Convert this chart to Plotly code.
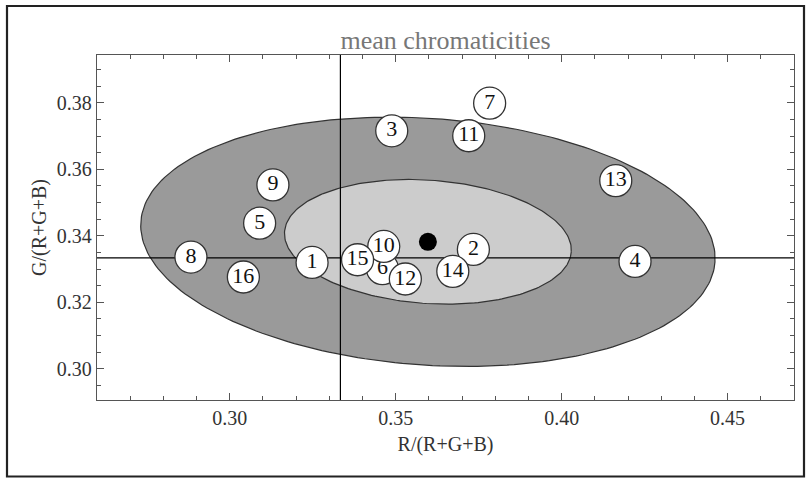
import numpy as np
import plotly.graph_objects as go

# ---- data ----
labels = [str(i) for i in range(1, 17)]
r_vals = [0.3248, 0.3734, 0.3488, 0.4221, 0.3090, 0.3460, 0.3783, 0.2883,
          0.3130, 0.3464, 0.3720, 0.3529, 0.4163, 0.3672, 0.3385, 0.3041]
g_vals = [0.3320, 0.3359, 0.3716, 0.3323, 0.3438, 0.3301, 0.3799, 0.3336,
          0.3553, 0.3368, 0.3701, 0.3270, 0.3566, 0.3293, 0.3328, 0.3276]
mean_r = 0.3597
mean_g = 0.3382
# ellipse parameters: (semi-major, semi-minor, rotation deg)
ell_outer = (0.0867, 0.0371, -4.0)
ell_inner = (0.0433, 0.01855, -4.0)
white_point = 1 / 3
x_ticks = [0.30, 0.35, 0.40, 0.45]
y_ticks = [0.30, 0.32, 0.34, 0.36, 0.38]
x_range = [0.26, 0.47]
y_range = [0.2906, 0.3944]

FONT = "Liberation Serif, Times New Roman, serif"


def ellipse(cx, cy, a, b, deg, n=240):
    t = np.linspace(0, 2 * np.pi, n)
    phi = np.deg2rad(deg)
    x = cx + a * np.cos(phi) * np.cos(t) - b * np.sin(phi) * np.sin(t)
    y = cy + a * np.sin(phi) * np.cos(t) + b * np.cos(phi) * np.sin(t)
    return x, y


fig = go.Figure()

ox, oy = ellipse(mean_r, mean_g, *ell_outer)
fig.add_trace(go.Scatter(x=ox, y=oy, mode="lines", fill="toself",
                         fillcolor="#9a9a9a", line=dict(color="#333333", width=1.2),
                         hoverinfo="skip", showlegend=False))
ix, iy = ellipse(mean_r, mean_g, *ell_inner)
fig.add_trace(go.Scatter(x=ix, y=iy, mode="lines", fill="toself",
                         fillcolor="#cccccc", line=dict(color="#333333", width=1.2),
                         hoverinfo="skip", showlegend=False))

# white-point cross lines
fig.add_trace(go.Scatter(x=[white_point, white_point], y=y_range, mode="lines",
                         line=dict(color="#000000", width=1.2), showlegend=False,
                         hoverinfo="skip"))
fig.add_trace(go.Scatter(x=x_range, y=[white_point, white_point], mode="lines",
                         line=dict(color="#000000", width=1.2), showlegend=False,
                         hoverinfo="skip"))

# mean point
fig.add_trace(go.Scatter(x=[mean_r], y=[mean_g], mode="markers",
                         marker=dict(color="black", size=18), showlegend=False))

# numbered circles, one trace each to keep stacking order
for lab, rv, gv in zip(labels, r_vals, g_vals):
    fig.add_trace(go.Scatter(
        x=[rv], y=[gv], mode="markers+text", text=[lab],
        textposition="middle center",
        textfont=dict(family=FONT, size=22, color="#111111"),
        marker=dict(size=32, color="white", line=dict(color="#333333", width=1.3)),
        showlegend=False))

axis_common = dict(
    showgrid=False, zeroline=False, showline=True, linecolor="#555555",
    linewidth=1.3, mirror="allticks", ticks="inside", ticklen=7, tickwidth=1,
    tickcolor="#555555", tickfont=dict(family=FONT, size=20, color="#333333"),
    tickformat=".2f",
)

fig.update_layout(
    width=810, height=478,
    margin=dict(l=97, r=16, t=55, b=78),
    paper_bgcolor="white", plot_bgcolor="white",
    title=dict(text="mean chromaticities", x=0.5, xref="paper", xanchor="center",
               y=1.0, yref="paper", yanchor="bottom", pad=dict(b=6),
               font=dict(family=FONT, size=26, color="#777777")),
    xaxis=dict(range=x_range, tickvals=x_ticks,
               minor=dict(dtick=0.01, tick0=0.30, ticks="inside", ticklen=4,
                          tickcolor="#555555"),
               title=dict(text="R/(R+G+B)", standoff=8,
                          font=dict(family=FONT, size=20, color="#333333")),
               **axis_common),
    yaxis=dict(range=y_range, tickvals=y_ticks,
               minor=dict(dtick=0.005, tick0=0.30, ticks="inside", ticklen=4,
                          tickcolor="#555555"),
               title=dict(text="G/(R+G+B)", standoff=4,
                          font=dict(family=FONT, size=20, color="#333333")),
               **axis_common),
    shapes=[dict(type="rect", xref="paper", yref="paper",
                 x0=(7 - 97) / 697, x1=(804 - 97) / 697,
                 y0=(400 - 476.5) / 345, y1=(400 - 6) / 345,
                 line=dict(color="#222222", width=2.2), fillcolor="rgba(0,0,0,0)")],
)

fig.write_html("out.html")
